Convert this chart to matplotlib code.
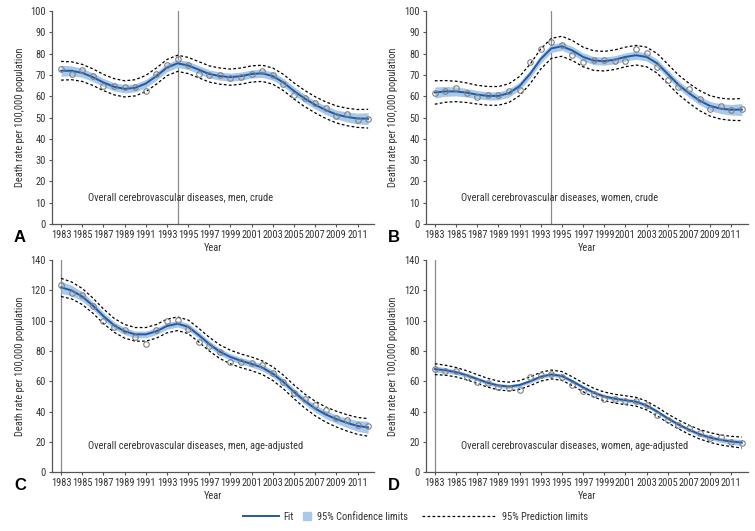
import numpy as np
import matplotlib
matplotlib.use("Agg")
import matplotlib.pyplot as plt
from matplotlib import font_manager as fm
from matplotlib.lines import Line2D

# pick a condensed face if one is available
installed = {f.name for f in fm.fontManager.ttflist}
candidates = ['Roboto Condensed', 'Open Sans Condensed', 'PT Sans Narrow', 'Archivo Narrow',
              'Fira Sans Condensed', 'IBM Plex Sans Condensed', 'Liberation Sans Narrow']
narrow = [c for c in candidates if c in installed]
FONT = narrow[0] if narrow else 'Liberation Sans'
plt.rcParams['font.family'] = [FONT, 'DejaVu Sans']
SCALE = 1.0 if narrow else 0.85

years = list(range(1983, 2013))

# observed rates (circles)
obs_a = [72.8, 70.7, 72.3, 69.4, 64.8, 64.8, 64.5, 64.2, 62.5, 70.5, 74.7, 77.4, 74.9, 70.7, 70.2,
         69.9, 68.6, 68.9, 70.3, 72.1, 70.0, 66.0, 60.8, 59.1, 56.9, 54.7, 50.8, 51.6, 48.8, 49.5]
obs_b = [61.7, 62.4, 64.0, 61.5, 59.8, 60.7, 60.7, 62.4, 63.2, 76.2, 82.0, 85.6, 84.0, 79.2, 75.9,
         77.0, 77.0, 76.7, 76.7, 82.0, 80.4, 74.0, 67.9, 64.2, 63.4, 58.7, 54.1, 55.4, 53.8, 54.1]
obs_c = [123.3, 118.0, 116.9, 109.5, 99.8, 96.0, 93.6, 89.2, 84.6, 93.8, 99.8, 100.2, 94.3, 85.9, 83.5,
         79.1, 73.0, 73.0, 71.9, 70.5, 65.5, 59.3, 52.1, 48.1, 44.0, 40.7, 35.6, 34.3, 31.0, 30.5]
obs_d = [68.4, 67.0, 66.8, 63.1, 59.8, 59.1, 56.5, 55.6, 54.5, 62.9, 64.4, 65.1, 62.9, 57.4, 53.8,
         51.9, 48.1, 48.6, 46.8, 47.0, 44.6, 38.0, 34.3, 31.0, 28.8, 25.7, 22.2, 22.9, 20.0, 19.3]

# fitted curves
fit_a = [72.0, 72.0, 71.0, 69.0, 66.5, 64.5, 63.5, 64.0, 66.0, 69.5, 73.5, 75.5, 74.5, 72.5, 70.5,
         69.5, 69.0, 69.5, 70.5, 70.8, 69.5, 66.5, 62.5, 59.0, 56.0, 53.5, 51.5, 50.3, 49.6, 49.5]
fit_b = [61.8, 62.3, 62.3, 61.7, 60.8, 60.2, 60.2, 61.5, 64.8, 70.5, 77.5, 82.5, 83.5, 81.5, 78.5,
         76.8, 76.5, 77.2, 78.5, 79.3, 78.5, 75.5, 70.5, 65.5, 61.5, 58.0, 55.5, 54.2, 53.7, 53.8]
fit_c = [122.0, 120.0, 116.0, 110.0, 103.0, 97.0, 93.0, 91.0, 91.0, 93.0, 96.5, 98.0, 96.0, 90.5, 84.5,
         79.5, 76.0, 73.5, 71.5, 69.0, 65.0, 59.5, 53.0, 47.0, 42.0, 38.0, 35.0, 32.5, 30.5, 29.5]
fit_d = [68.0, 67.3, 66.0, 64.0, 61.5, 59.0, 57.2, 56.5, 57.5, 60.0, 63.0, 64.5, 63.5, 60.0, 56.0,
         52.5, 50.0, 48.5, 47.5, 46.5, 44.0, 40.0, 35.5, 31.5, 28.0, 25.0, 22.8, 21.2, 20.2, 19.5]

# half widths of 95% confidence / prediction limits
ci_a = [2.6, 2.3, 2.1, 2.0, 1.9, 1.9, 1.9, 1.9, 1.9, 1.9, 1.9, 1.9, 1.9, 1.9, 1.9,
        1.9, 1.9, 1.9, 1.9, 1.9, 1.9, 1.9, 1.9, 1.9, 1.9, 2.0, 2.1, 2.3, 2.5, 2.8]
pi_a = [4.4, 4.2, 4.0, 3.9, 3.8, 3.8, 3.8, 3.8, 3.8, 3.8, 3.8, 3.8, 3.8, 3.8, 3.8,
        3.8, 3.8, 3.8, 3.8, 3.8, 3.8, 3.8, 3.8, 3.8, 3.8, 3.9, 4.0, 4.1, 4.2, 4.4]
ci_b = [2.6, 2.3, 2.1, 2.0, 1.9, 1.9, 1.9, 1.9, 1.9, 1.9, 1.9, 1.9, 1.9, 1.9, 1.9,
        1.9, 1.9, 1.9, 1.9, 1.9, 1.9, 1.9, 1.9, 1.9, 1.9, 2.0, 2.1, 2.3, 2.5, 2.8]
pi_b = [5.5, 5.1, 4.8, 4.6, 4.4, 4.4, 4.4, 4.4, 4.5, 4.6, 4.7, 4.7, 4.7, 4.7, 4.6,
        4.6, 4.6, 4.6, 4.6, 4.6, 4.6, 4.6, 4.6, 4.6, 4.6, 4.7, 4.8, 4.9, 5.0, 5.2]
ci_c = [4.0, 3.4, 3.0, 2.7, 2.5, 2.3, 2.2, 2.2, 2.2, 2.2, 2.2, 2.2, 2.2, 2.2, 2.2,
        2.2, 2.2, 2.2, 2.2, 2.2, 2.2, 2.2, 2.2, 2.3, 2.4, 2.6, 2.8, 3.1, 3.5, 4.0]
pi_c = [6.0, 5.6, 5.3, 5.0, 4.8, 4.6, 4.5, 4.5, 4.5, 4.5, 4.5, 4.5, 4.5, 4.5, 4.5,
        4.5, 4.5, 4.5, 4.5, 4.5, 4.5, 4.5, 4.5, 4.6, 4.8, 5.0, 5.2, 5.4, 5.6, 5.8]
ci_d = [2.0, 1.7, 1.5, 1.4, 1.3, 1.3, 1.3, 1.3, 1.3, 1.3, 1.3, 1.3, 1.3, 1.3, 1.3,
        1.3, 1.3, 1.3, 1.3, 1.3, 1.3, 1.3, 1.3, 1.3, 1.3, 1.4, 1.5, 1.6, 1.8, 2.0]
pi_d = [3.6, 3.3, 3.1, 3.0, 2.9, 2.9, 2.9, 2.9, 2.9, 2.9, 2.9, 2.9, 2.9, 2.9, 2.9,
        2.9, 2.9, 2.9, 2.9, 2.9, 2.9, 2.9, 2.9, 2.9, 3.0, 3.1, 3.2, 3.3, 3.4, 3.6]

titles = ["Overall cerebrovascular diseases, men, crude",
          "Overall cerebrovascular diseases, women, crude",
          "Overall cerebrovascular diseases, men, age-adjusted",
          "Overall cerebrovascular diseases, women, age-adjusted"]
letters = ["A", "B", "C", "D"]
vlines = [1994, 1994, 1983, 1983]
xticks = list(range(1983, 2012, 2))
legend_labels = ["Fit", "95% Confidence limits", "95% Prediction limits"]

FIT_COL = "#1f5aa6"
CI_COL = "#a9c8ea"
TXT = "#333333"
FS = 7.5 * SCALE
DASH = (0, (2.2, 1.8))

fig = plt.figure(figsize=(7.55, 5.31), dpi=100)

# axes boxes in figure fractions
boxes = [[0.069, 0.578, 0.427, 0.401],
         [0.564, 0.578, 0.427, 0.401],
         [0.069, 0.111, 0.427, 0.399],
         [0.564, 0.111, 0.427, 0.399]]

panels = [(obs_a, fit_a, ci_a, pi_a), (obs_b, fit_b, ci_b, pi_b),
          (obs_c, fit_c, ci_c, pi_c), (obs_d, fit_d, ci_d, pi_d)]

x = np.array(years)
for i, (obs, fit, ci, pi) in enumerate(panels):
    ax = fig.add_axes(boxes[i])
    fit = np.array(fit)
    ci = np.array(ci)
    pi = np.array(pi)
    ax.fill_between(x, fit - ci, fit + ci, color=CI_COL, lw=0, zorder=1)
    ax.plot(x, fit, color=FIT_COL, lw=1.4, zorder=3)
    ax.plot(x, fit + pi, color="black", lw=0.9, ls=DASH, zorder=2)
    ax.plot(x, fit - pi, color="black", lw=0.9, ls=DASH, zorder=2)
    ax.plot(x, obs, 'o', ms=4, mfc="none", mec="#808080", mew=0.8, zorder=4)
    ax.axvline(vlines[i], color="#8a8a8a", lw=0.9, zorder=0)

    ax.set_xlim(1982.15, 2012.6)
    if i < 2:
        ax.set_ylim(0, 100)
        ax.set_yticks(range(0, 101, 10))
        ytxt = 12.5
    else:
        ax.set_ylim(0, 140)
        ax.set_yticks(range(0, 141, 20))
        ytxt = 17
    ax.set_xticks(xticks)
    ax.tick_params(labelsize=FS, length=2.5, color="#555555", labelcolor=TXT, pad=2)
    for s in ["top", "right"]:
        ax.spines[s].set_visible(False)
    for s in ["left", "bottom"]:
        ax.spines[s].set_color("#555555")
        ax.spines[s].set_linewidth(0.9)
    ax.set_ylabel("Death rate per 100,000 population", fontsize=FS, color=TXT, labelpad=4)
    ax.set_xlabel("Year", fontsize=FS, color=TXT, labelpad=2)
    ax.text(1985.5, ytxt, titles[i], fontsize=FS, color=TXT, va="center")
    ax.text(-0.118, -0.03, letters[i], transform=ax.transAxes, fontsize=12,
            fontweight="bold", family=["Liberation Sans", "DejaVu Sans"], va="top")

# legend: three entries with their own handle lengths
handles = [Line2D([], [], color=FIT_COL, lw=1.4),
           Line2D([], [], marker="s", ls="none", ms=5.5, mfc=CI_COL, mec=CI_COL),
           Line2D([], [], color="black", lw=0.9, ls=DASH)]
starts = [0.322, 0.401, 0.559]
hlens = [3.4, 0.9, 7.2]
for h, lab, x0, hl in zip(handles, legend_labels, starts, hlens):
    leg = fig.legend([h], [lab], loc="center left", bbox_to_anchor=(x0, 0.027),
                     frameon=False, fontsize=FS, handlelength=hl, handletextpad=0.5,
                     borderpad=0, borderaxespad=0)
    for t in leg.get_texts():
        t.set_color(TXT)

fig.savefig("out.png", dpi=100)
